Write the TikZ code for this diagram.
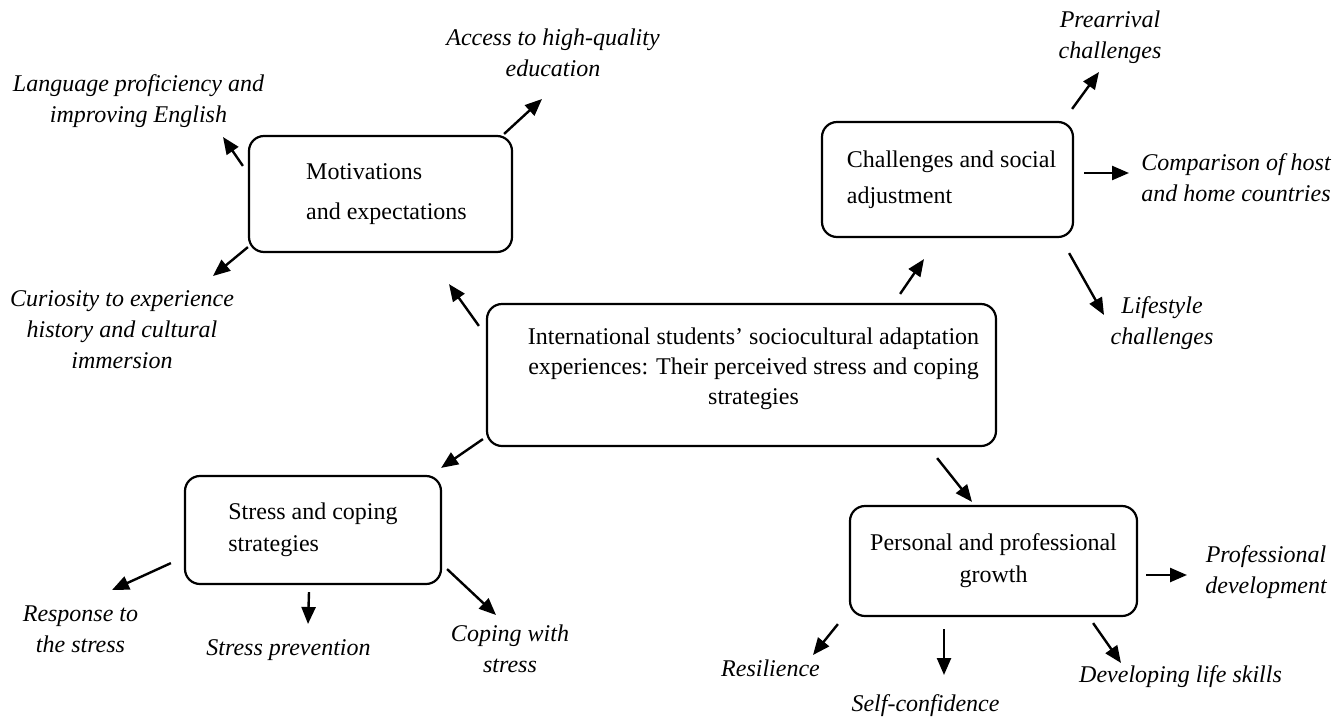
\documentclass[tikz,border=0pt]{standalone}
\usepackage{fontspec}
\setmainfont{Liberation Serif}
\usetikzlibrary{arrows.meta,calc}

\begin{document}
\begin{tikzpicture}[
  x=0.5pt, y=-0.5pt,
  >={Triangle[length=8.5pt,width=7pt]},
  box/.style={rectangle, draw=black, rounded corners=7.5pt, line width=1.1pt, inner sep=0pt, font=\fontsize{12}{16}\selectfont},
  topic/.style={font=\fontsize{12}{15.5}\selectfont\itshape, align=center, inner sep=0pt},
  arr/.style={->, line width=1.2pt}
]
  \useasboundingbox (0,0) rectangle (1343,718);

  % Central theme
  \node[box, minimum width=254.5pt, minimum height=71pt, font=\fontsize{12}{15}\selectfont] (centre) at (741.5,375)
    {\hspace*{12pt}\raisebox{3.5pt}[\height][\depth]{\begin{tabular}{@{}c@{}}International students’ sociocultural adaptation\\experiences: Their perceived stress and coping\\strategies\end{tabular}}};

  % Four themes
  \node[box, minimum width=131.5pt, minimum height=58pt, align=left, font=\fontsize{12}{20}\selectfont] (mot) at (380.5,194)
    {\hspace*{6pt}Motivations\\\hspace*{6pt}and expectations};
  \node[box, minimum width=125.5pt, minimum height=57.5pt, align=left, font=\fontsize{12}{18}\selectfont] (chal) at (947.5,179.5)
    {\hspace*{4pt}Challenges and social\\\hspace*{4pt}adjustment};
  \node[box, minimum width=128pt, minimum height=54pt, align=left] (stress) at (313,530) {Stress and coping\\strategies};
  \node[box, minimum width=143.5pt, minimum height=55pt, align=center] (pers) at (993.5,561) {Personal and professional\\growth};

  % Sub-themes
  \node[topic] (lang) at (138.5,101) {Language proficiency and\\improving English};
  \node[topic] (access) at (553,52.5) {Access to high-quality\\education};
  \node[topic] (curio) at (122,330) {Curiosity to experience\\history and cultural\\immersion};
  \node[topic] (prearr) at (1110,37.5) {Prearrival\\challenges};
  \node[topic] (compar) at (1236,178) {Comparison of host\\and home countries};
  \node[topic] (life) at (1162,323.5) {Lifestyle\\challenges};
  \node[topic] (resp) at (80.5,629) {Response to\\the stress};
  \node[topic] (prev) at (288.5,650) {Stress prevention};
  \node[topic] (coping) at (510,649) {Coping with\\stress};
  \node[topic] (prof) at (1266,572.5) {Professional\\development};
  \node[topic] (resil) at (770.5,668) {Resilience};
  \node[topic] (selfc) at (925.5,706) {Self-confidence};
  \node[topic] (devel) at (1180.5,677) {Developing life skills};

  % Centre to themes
  \draw[arr] ($(centre.north west)+(-7,23)$) -- ($(mot.south)+(68.5,31)$);
  \draw[arr] ($(centre.north east)+(-97,-9)$) -- ($(chal.south)+(-23.5,21)$);
  \draw[arr] ($(centre.south west)+(-3,-8)$) -- ($(stress.north east)+(-1,-7)$);
  \draw[arr] ($(centre.south east)+(-60,11)$) -- ($(pers.north)+(-21.5,-3)$);

  % Motivations
  \draw[arr] ($(mot.north west)+(-5,31)$) -- ($(lang.center)+(84.5,36)$);
  \draw[arr] ($(mot.north east)+(-9,-1)$) -- ($(access.center)+(-11,46.5)$);
  \draw[arr] ($(mot.south west)+(0,-6)$) -- ($(curio.center)+(91,-54)$);

  % Challenges
  \draw[arr] ($(chal.north east)+(-2,-12)$) -- ($(prearr.center)+(-11,34.5)$);
  \draw[arr] ($(chal.east)+(10,-6.5)$) -- ($(compar.center)+(-107,-5)$);
  \draw[arr] ($(chal.south east)+(-5,15)$) -- ($(life.center)+(-58,-8.5)$);

  % Stress and coping
  \draw[arr] ($(stress.south west)+(-13,-22)$) -- ($(resp.center)+(31.5,-39)$);
  \draw[arr] ($(stress.south)+(-4,7)$) -- ($(prev.center)+(19.5,-26)$);
  \draw[arr] ($(stress.south east)+(5,-16)$) -- ($(coping.center)+(-14,-34)$);

  % Personal growth
  \draw[arr] ($(pers.east)+(8,14)$) -- ($(prof.center)+(-79,2.5)$);
  \draw[arr] ($(pers.south west)+(-11,7)$) -- ($(resil.center)+(42.5,-13)$);
  \draw[arr] ($(pers.south)+(-49.5,12)$) -- ($(selfc.center)+(18.5,-31)$);
  \draw[arr] ($(pers.south east)+(-45,6)$) -- ($(devel.center)+(-59.5,-14)$);
\end{tikzpicture}
\end{document}
